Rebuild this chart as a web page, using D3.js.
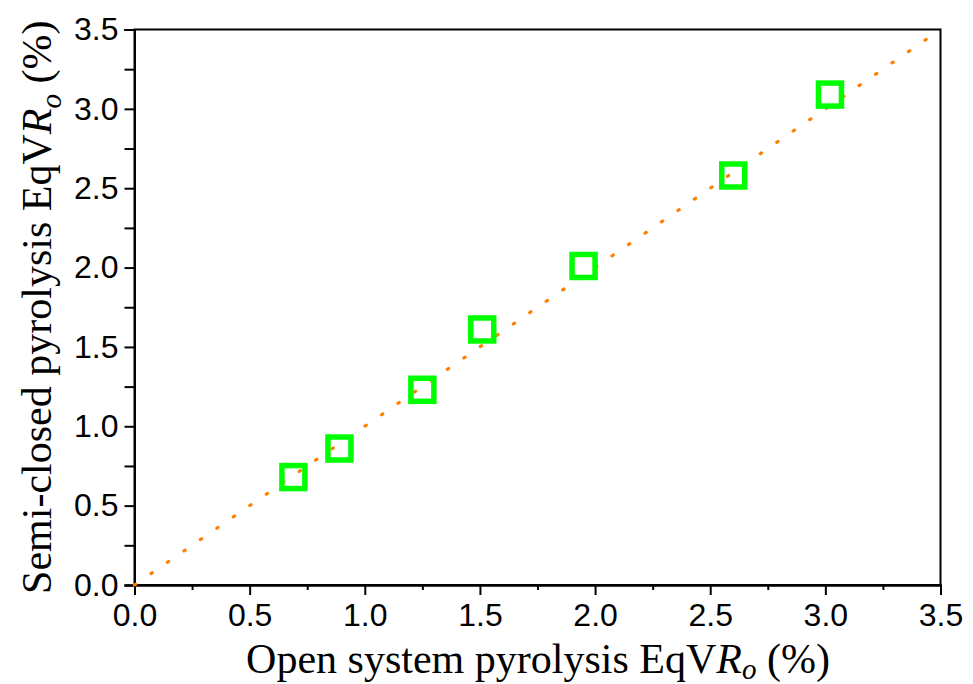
<!DOCTYPE html>
<html>
<head>
<meta charset="utf-8">
<script src="https://cdn.jsdelivr.net/npm/d3@7"></script>
<style>
  html, body { margin: 0; padding: 0; background: #fff; }
  svg { display: block; }
</style>
</head>
<body>
<svg id="chart" width="973" height="684"></svg>
<script>
// EqVRo measured in open-system vs semi-closed pyrolysis
const openRo = [0.69, 0.89, 1.25, 1.51, 1.95, 2.60, 3.02];
const semiClosedRo = [0.68, 0.86, 1.23, 1.61, 2.01, 2.58, 3.09];
const majorTicks = [0, 0.5, 1.0, 1.5, 2.0, 2.5, 3.0, 3.5];
const minorTicks = [0.25, 0.75, 1.25, 1.75, 2.25, 2.75, 3.25];
const identityLine = [0, 3.5];

const W = 973, H = 684;
const m = { left: 134.5, right: 32.5, top: 29.5, bottom: 99 };
const svg = d3.select("#chart");

const x = d3.scaleLinear().domain([0, 3.5]).range([m.left, W - m.right]);
const y = d3.scaleLinear().domain([0, 3.5]).range([H - m.bottom, m.top]);

const tickFont = "'Liberation Sans', Arial, sans-serif";
const titleFont = "'Liberation Serif', 'Times New Roman', serif";

// frame
svg.append("rect")
  .attr("x", x(0)).attr("y", y(3.5))
  .attr("width", x(3.5) - x(0)).attr("height", y(0) - y(3.5))
  .attr("fill", "none").attr("stroke", "#000").attr("stroke-width", 2);

// x axis
const xAxis = svg.append("g").attr("transform", `translate(0,${y(0)})`)
  .call(d3.axisBottom(x).tickValues(majorTicks).tickFormat(d3.format(".1f"))
    .tickSize(10).tickPadding(8));
const xMinor = svg.append("g").attr("transform", `translate(0,${y(0)})`)
  .call(d3.axisBottom(x).tickValues(minorTicks).tickFormat("").tickSize(5));

// y axis
const yAxis = svg.append("g").attr("transform", `translate(${x(0)},0)`)
  .call(d3.axisLeft(y).tickValues(majorTicks).tickFormat(d3.format(".1f"))
    .tickSize(10).tickPadding(6));
const yMinor = svg.append("g").attr("transform", `translate(${x(0)},0)`)
  .call(d3.axisLeft(y).tickValues(minorTicks).tickFormat("").tickSize(10));

[xAxis, yAxis, xMinor, yMinor].forEach(g => {
  g.select(".domain").attr("stroke-width", 2);
  g.selectAll(".tick line").attr("stroke-width", 2);
  g.selectAll("text").attr("font-family", tickFont).attr("font-size", 32).attr("fill", "#000");
});

// 1:1 reference line
svg.append("line")
  .attr("x1", x(identityLine[0])).attr("y1", y(identityLine[0]))
  .attr("x2", x(identityLine[1])).attr("y2", y(identityLine[1]))
  .attr("stroke", "#ff8000").attr("stroke-width", 3.2)
  .attr("stroke-linecap", "round").attr("stroke-dasharray", "1.5,18.5");

// data points as open squares
const side = 23;
svg.append("g").selectAll("rect").data(openRo).join("rect")
  .attr("x", (d) => x(d) - side / 2)
  .attr("y", (d, i) => y(semiClosedRo[i]) - side / 2)
  .attr("width", side).attr("height", side)
  .attr("fill", "none").attr("stroke", "#00ff00").attr("stroke-width", 5.5);

// axis titles
const xt = svg.append("text")
  .attr("x", 538).attr("y", 673)
  .attr("text-anchor", "middle")
  .attr("font-family", titleFont).attr("font-size", 42).attr("fill", "#000");
xt.append("tspan").text("Open system pyrolysis EqV");
xt.append("tspan").attr("font-style", "italic").text("R");
xt.append("tspan").attr("font-style", "italic").attr("font-size", 29).attr("dy", 6).text("o");
xt.append("tspan").attr("dy", -6).text(" (%)");

const yt = svg.append("text")
  .attr("transform", `translate(51,${(y(0) + y(3.5)) / 2}) rotate(-90)`)
  .attr("text-anchor", "middle")
  .attr("font-family", titleFont).attr("font-size", 42).attr("fill", "#000");
yt.append("tspan").text("Semi-closed pyrolysis EqV");
yt.append("tspan").attr("font-style", "italic").text("R");
yt.append("tspan").attr("font-style", "italic").attr("font-size", 29).attr("dy", 10).text("o");
yt.append("tspan").attr("dy", -10).text(" (%)");
</script>
</body>
</html>
